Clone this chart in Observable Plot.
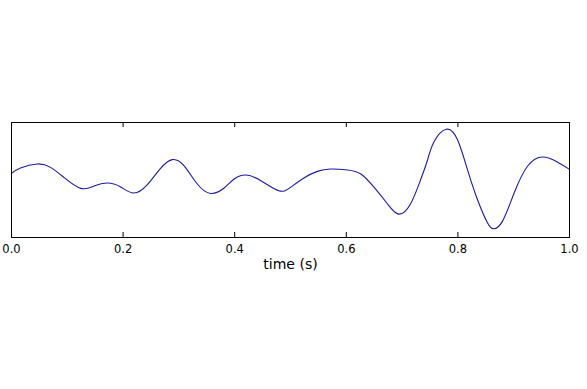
<!DOCTYPE html>
<html>
<head>
<meta charset="utf-8">
<script src="https://cdn.jsdelivr.net/npm/d3@7"></script>
<script src="https://cdn.jsdelivr.net/npm/@observablehq/plot@0.6"></script>
<style>
  html, body { margin: 0; padding: 0; background: #fff; }
  #chart svg { display: block; font-family: "DejaVu Sans", sans-serif; }
</style>
</head>
<body>
<div id="chart"></div>
<script>
const times = [0.000, 0.016, 0.046, 0.070, 0.094, 0.124, 0.148, 0.172, 0.195, 0.219,
  0.243, 0.266, 0.288, 0.309, 0.333, 0.357, 0.381, 0.399, 0.420, 0.447,
  0.479, 0.500, 0.524, 0.548, 0.572, 0.602, 0.626, 0.650, 0.674, 0.694,
  0.715, 0.733, 0.745, 0.757, 0.779, 0.799, 0.817, 0.835, 0.853, 0.864,
  0.880, 0.901, 0.925, 0.952, 0.978, 1.000];
const amplitudes = [0.115, 0.209, 0.279, 0.220, 0.045, -0.146, -0.105, -0.052, -0.117, -0.227,
  -0.085, 0.190, 0.354, 0.249, -0.070, -0.234, -0.139, 0.017, 0.087, -0.012,
  -0.187, -0.129, 0.035, 0.150, 0.192, 0.174, 0.105, -0.129, -0.418, -0.593,
  -0.418, 0.000, 0.330, 0.660, 0.882, 0.708, 0.185, -0.338, -0.745, -0.849,
  -0.715, -0.221, 0.244, 0.401, 0.314, 0.185];
const xTicks = [0, 0.2, 0.4, 0.6, 0.8, 1.0];
const xLabel = "time (s)";

const data = times.map((t, i) => ({t, v: amplitudes[i]}));

const W = 587, H = 389;
const mTop = 122, mBottom = 152, mLeft = 11, mRight = 18;
const frameH = H - mTop - mBottom;
const tickLen = 5;

const chart = Plot.plot({
  width: W,
  height: H,
  marginTop: mTop,
  marginBottom: mBottom,
  marginLeft: mLeft,
  marginRight: mRight,
  style: {fontFamily: "DejaVu Sans, sans-serif", background: "#fff"},
  x: {domain: [0, 1]},
  y: {domain: [-1, 1], axis: null},
  marks: [
    Plot.line(data, {x: "t", y: "v", stroke: "#1a1aa0", strokeWidth: 1.1, curve: "natural"}),
    Plot.tickX(xTicks, {x: d => d, insetTop: frameH - tickLen, stroke: "#000", strokeWidth: 1}),
    Plot.tickX(xTicks, {x: d => d, insetBottom: frameH - tickLen, stroke: "#000", strokeWidth: 1}),
    Plot.frame({stroke: "#000", strokeWidth: 1}),
    Plot.axisX(xTicks, {tickSize: 0, tickPadding: 7, fontSize: 11.5, tickFormat: d3.format(".1f"), label: null, fill: "#000"}),
    Plot.text([xLabel], {frameAnchor: "bottom", dy: 31, lineAnchor: "bottom", fontSize: 14, fill: "#000", text: d => d})
  ]
});
document.getElementById("chart").appendChild(chart);
</script>
</body>
</html>
